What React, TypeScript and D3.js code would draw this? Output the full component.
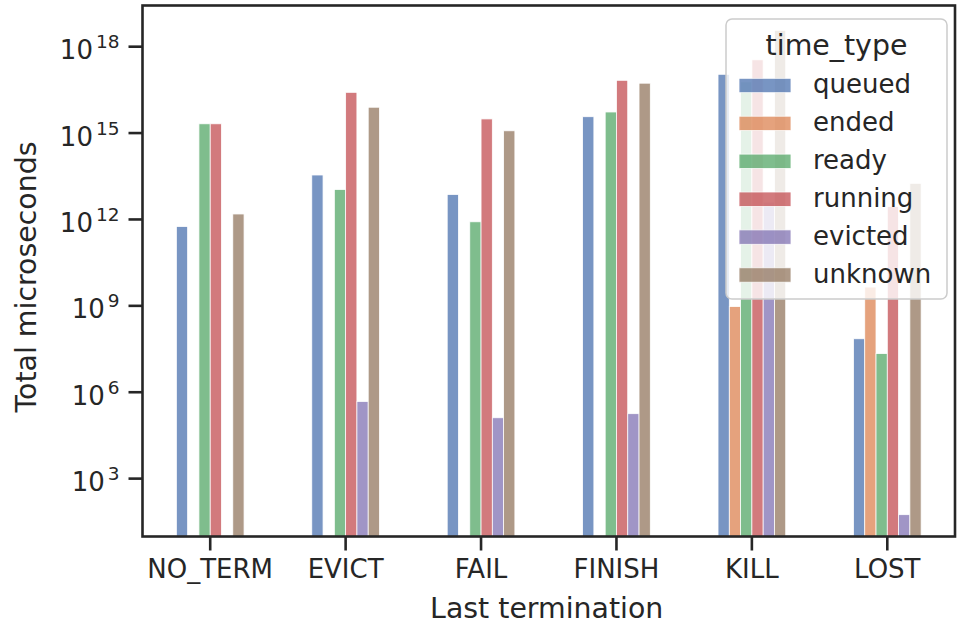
import React from "react";
import * as d3 from "d3";

const categories = ["NO_TERM", "EVICT", "FAIL", "FINISH", "KILL", "LOST"];
const seriesNames = ["queued", "ended", "ready", "running", "evicted", "unknown"];
const seriesColors = ["#4c72b0", "#dd8452", "#55a868", "#c44e52", "#8172b3", "#937860"];

const queued = [5.7e11, 3.5e13, 7.4e12, 3.7e15, 1.1e17, 7.2e7];
const ended = [null, null, null, null, 9.5e8, 4.5e9];
const ready = [2.1e15, 1.1e13, 8.3e11, 5.4e15, 6e16, 2.2e7];
const running = [2.1e15, 2.6e16, 3.1e15, 6.8e16, 3.5e17, 2.8e12];
const evicted = [null, 4.8e5, 1.3e5, 1.8e5, 4e12, 56];
const unknown = [1.55e12, 7.9e15, 1.2e15, 5.4e16, 3.7e18, 1.8e13];

const yTickExps = [3, 6, 9, 12, 15, 18];

const seriesValues: (number | null)[][] = [queued, ended, ready, running, evicted, unknown];

const W = 958;
const H = 627;
const M = { left: 142.5, right: 955, top: 5.5, bottom: 536.5 };
const TXT = "#262626";
const FONT = "'DejaVu Sans', sans-serif";

export default function App() {
  const x = d3
    .scaleBand<string>()
    .domain(categories)
    .range([M.left, M.right])
    .paddingInner(0.5)
    .paddingOuter(0.25);
  const xs = d3.scaleBand<string>().domain(seriesNames).range([0, x.bandwidth()]).padding(0);
  const y = d3
    .scaleLog()
    .domain([Math.pow(10, 0.99), Math.pow(10, 19.43)])
    .range([M.bottom, M.top]);

  const bars: React.ReactNode[] = [];
  categories.forEach((c, ci) => {
    seriesNames.forEach((s, si) => {
      const v = seriesValues[si][ci];
      if (v == null) return;
      const x0 = (x(c) as number) + (xs(s) as number);
      const yt = y(v);
      bars.push(
        <rect
          key={c + s}
          x={x0}
          y={yt}
          width={xs.bandwidth()}
          height={M.bottom - yt}
          fill={seriesColors[si]}
          stroke="#ffffff"
          strokeWidth={0.8}
          opacity={0.75}
        />
      );
    });
  });

  const tickLen = 14;
  const legX = 726;
  const legY = 19;
  const legW = 221;
  const legH = 280;
  const entry0 = 85.5;
  const entryStep = 37.9;

  return (
    <svg width={W} height={H} style={{ position: "absolute", left: 0, top: 0, background: "#fff" }} fontFamily={FONT}>
      <rect x={0} y={0} width={W} height={H} fill="#fff" />
      {bars}
      {/* spines */}
      <rect
        x={M.left}
        y={M.top}
        width={M.right - M.left}
        height={M.bottom - M.top}
        fill="none"
        stroke={TXT}
        strokeWidth={2.6}
      />
      {/* y ticks */}
      {yTickExps.map((e) => {
        const yy = y(Math.pow(10, e));
        return (
          <g key={"yt" + e}>
            <line x1={M.left - tickLen} x2={M.left} y1={yy} y2={yy} stroke={TXT} strokeWidth={2.6} />
            <text x={M.left - tickLen - 9} y={yy + 12.5} textAnchor="end" fill={TXT} fontSize={26}>
              <tspan>10</tspan>
              <tspan dx={3} dy={-11} fontSize={18.5}>{String(e)}</tspan>
            </text>
          </g>
        );
      })}
      {/* x ticks */}
      {categories.map((c) => {
        const xx = (x(c) as number) + x.bandwidth() / 2;
        return (
          <g key={"xt" + c}>
            <line x1={xx} x2={xx} y1={M.bottom} y2={M.bottom + tickLen} stroke={TXT} strokeWidth={2.6} />
            <text x={xx} y={578} textAnchor="middle" fill={TXT} fontSize={26}>
              {c}
            </text>
          </g>
        );
      })}
      {/* axis labels */}
      <text x={(M.left + M.right) / 2 - 2} y={618} textAnchor="middle" fill={TXT} fontSize={28.4}>
        Last termination
      </text>
      <text
        transform={`translate(36, ${(M.top + M.bottom) / 2 + 6}) rotate(-90)`}
        textAnchor="middle"
        fill={TXT}
        fontSize={28.4}
      >
        Total microseconds
      </text>
      {/* legend */}
      <g>
        <rect
          x={legX}
          y={legY}
          width={legW}
          height={legH}
          rx={6}
          ry={6}
          fill="#ffffff"
          fillOpacity={0.8}
          stroke="#cccccc"
          strokeWidth={1.5}
        />
        <text x={legX + legW / 2} y={55} textAnchor="middle" fill={TXT} fontSize={28.4}>
          time_type
        </text>
        {seriesNames.map((s, i) => {
          const cy = entry0 + i * entryStep;
          return (
            <g key={"lg" + s}>
              <rect
                x={739}
                y={cy - 7.2}
                width={52}
                height={14.4}
                fill={seriesColors[i]}
                stroke="#ffffff"
                strokeWidth={0.8}
                opacity={0.75}
              />
              <text x={813} y={cy + 7.5} fill={TXT} fontSize={26}>
                {s}
              </text>
            </g>
          );
        })}
      </g>
    </svg>
  );
}
